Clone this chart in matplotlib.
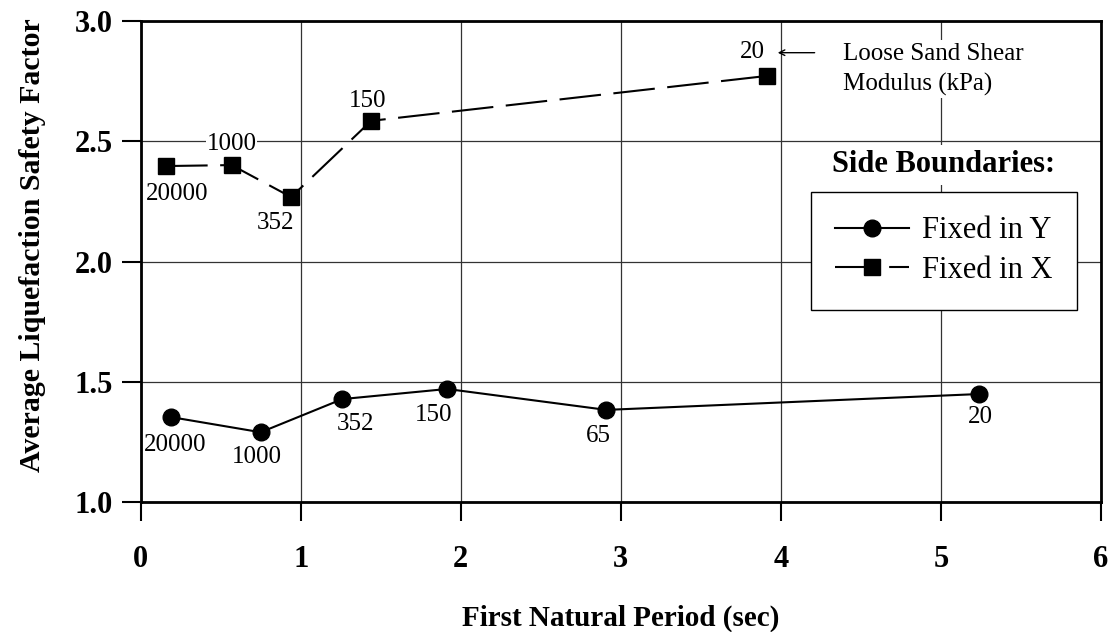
import matplotlib
matplotlib.use("Agg")
import matplotlib.pyplot as plt

plt.rcParams['font.family'] = ['Liberation Serif', 'DejaVu Serif']

# data
period_fixed_y = [0.19, 0.75, 1.26, 1.915, 2.91, 5.24]
sf_fixed_y = [1.353, 1.29, 1.428, 1.47, 1.383, 1.449]
modulus_fixed_y = ['20000', '1000', '352', '150', '65', '20']

period_fixed_x = [0.158, 0.568, 0.94, 1.44, 3.916]
sf_fixed_x = [2.397, 2.401, 2.268, 2.585, 2.772]
modulus_fixed_x = ['20000', '1000', '352', '150', '20']

x_ticks = [0, 1, 2, 3, 4, 5, 6]
y_ticks = [1.0, 1.5, 2.0, 2.5, 3.0]

# label offsets (points) for the modulus values
offs_y = [(3, -20), (-3, -18), (9.5, -18), (-10, -18.5), (-6, -18.5), (1, -16.5)]
offs_x = [(8, -20), (0, 15), (-11.5, -18.5), (-2.5, 14), (-11, 17)]

fig = plt.figure(figsize=(11.14, 6.32), dpi=100)
ax = fig.add_axes([0.1263, 0.2057, 0.862, 0.761])

ax.plot(period_fixed_y, sf_fixed_y, color='black', lw=1.5, marker='o',
        markersize=12, label='Fixed in Y', zorder=3)
ax.plot(period_fixed_x, sf_fixed_x, color='black', lw=1.5, marker='s',
        markersize=11, linestyle=(0, (20, 6)), label='Fixed in X', zorder=3)

box = dict(facecolor='white', edgecolor='none', pad=0.5)
for px, sf, lab, off in zip(period_fixed_y, sf_fixed_y, modulus_fixed_y, offs_y):
    ax.annotate(lab, (px, sf), xytext=off, textcoords='offset points',
                ha='center', va='center', fontsize=18, bbox=box, zorder=2.4)
for px, sf, lab, off in zip(period_fixed_x, sf_fixed_x, modulus_fixed_x, offs_x):
    ax.annotate(lab, (px, sf), xytext=off, textcoords='offset points',
                ha='center', va='center', fontsize=18, bbox=box, zorder=2.4)

# note on the last point
ax.text(0.7312, 0.900, 'Loose Sand Shear\nModulus (kPa)', transform=ax.transAxes,
        ha='left', va='center', fontsize=18, linespacing=1.45,
        bbox=dict(facecolor='white', edgecolor='none', pad=2), zorder=2.4)
ax.annotate('', xy=(0.6605, 0.9342), xytext=(0.7105, 0.9342),
            xycoords='axes fraction', textcoords='axes fraction',
            arrowprops=dict(arrowstyle='->', lw=1, color='black', mutation_scale=10),
            bbox=dict(facecolor='white', edgecolor='none'), zorder=5)

ax.set_xlim(0, 6)
ax.set_ylim(1.0, 3.0)
ax.set_xticks(x_ticks)
ax.set_yticks(y_ticks)
ax.set_yticklabels([f'{v:.1f}' for v in y_ticks])
ax.grid(True, color='#333333', lw=0.9, zorder=0)
ax.set_axisbelow(True)

for s in ax.spines.values():
    s.set_linewidth(2)
ax.tick_params(axis='both', direction='out', length=14, width=1.5, labelsize=22)
ax.tick_params(axis='x', pad=17)
ax.tick_params(axis='y', pad=6)
for t in ax.get_xticklabels() + ax.get_yticklabels():
    t.set_fontweight('bold')

ax.set_xlabel('First Natural Period (sec)', fontsize=21, fontweight='bold', labelpad=22)
ax.set_ylabel('Average Liquefaction Safety Factor', fontsize=21.5, fontweight='bold')
ax.yaxis.set_label_coords(-0.0986, 0.534)

ax.text(0.8363, 0.7017, 'Side Boundaries:', transform=ax.transAxes, ha='center',
        va='center', fontsize=22, fontweight='bold',
        bbox=dict(facecolor='white', edgecolor='none', pad=4), zorder=4)

leg = ax.legend(loc='upper left', bbox_to_anchor=(0.698, 0.4075, 0.277, 0.237),
                mode='expand', borderaxespad=0, fontsize=22, fancybox=False,
                edgecolor='black', framealpha=1, handlelength=2.4,
                handletextpad=0.45, borderpad=0.8, labelspacing=0.35)
leg.get_frame().set_linewidth(1)
leg.set_zorder(5)

fig.savefig('out.png', dpi=100)
